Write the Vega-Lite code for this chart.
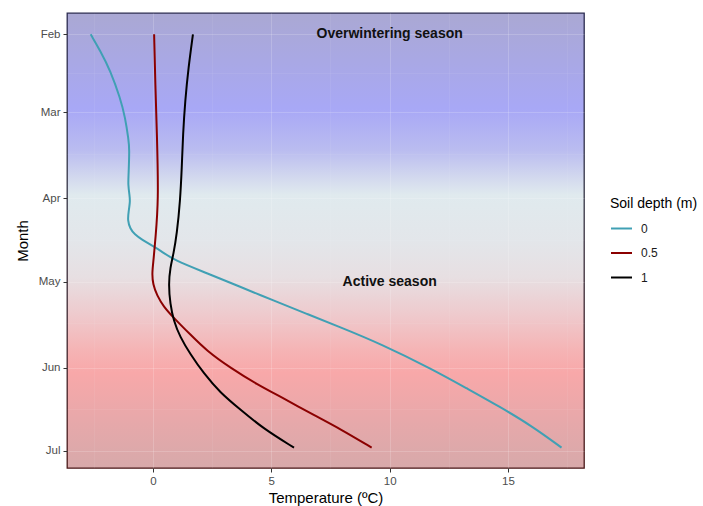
{
  "$schema": "https://vega.github.io/schema/vega-lite/v6.json",
  "width": 517,
  "height": 455,
  "autosize": {"type": "none"},
  "padding": {"left": 67, "top": 13, "right": 119, "bottom": 38},
  "background": "white",
  "config": {
    "font": "Liberation Sans",
    "view": {
      "fill": {"gradient": "linear", "x1": 0, "y1": 0, "x2": 0, "y2": 1, "stops": [
        {"offset": 0, "color": "#aaa8d3"},
        {"offset": 0.21, "color": "#a8a8f6"},
        {"offset": 0.30, "color": "#babcf0"},
        {"offset": 0.36, "color": "#d2d8ee"},
        {"offset": 0.40, "color": "#e0eaee"},
        {"offset": 0.50, "color": "#e3e6ea"},
        {"offset": 0.58, "color": "#e7dfe2"},
        {"offset": 0.67, "color": "#efc8cb"},
        {"offset": 0.74, "color": "#f5b4b5"},
        {"offset": 0.79, "color": "#f8a8a9"},
        {"offset": 0.89, "color": "#e8a8aa"},
        {"offset": 1, "color": "#d7a9aa"}
      ]},
      "stroke": {"gradient": "linear", "x1": 0, "y1": 0, "x2": 0, "y2": 1, "stops": [
        {"offset": 0, "color": "#2a2a50"},
        {"offset": 0.4, "color": "#333344"},
        {"offset": 1, "color": "#4a1818"}
      ]},
      "strokeWidth": 1.3
    },
    "axis": {
      "domain": false,
      "gridColor": "#ffffff",
      "tickColor": "#333333",
      "tickSize": 4,
      "labelColor": "#4d4d4d",
      "labelFontSize": 11.5,
      "labelPadding": 3,
      "titleFontSize": 15,
      "titleFontWeight": "normal",
      "titleColor": "#000000"
    }
  },
  "datasets": {
    "temps": [
      {"depth": "0", "date": "2021-02-01", "temp": -2.63},
      {"depth": "0", "date": "2021-02-07", "temp": -2.22},
      {"depth": "0", "date": "2021-02-14", "temp": -1.80},
      {"depth": "0", "date": "2021-02-24", "temp": -1.38},
      {"depth": "0", "date": "2021-03-03", "temp": -1.17},
      {"depth": "0", "date": "2021-03-11", "temp": -1.03},
      {"depth": "0", "date": "2021-03-14", "temp": -0.99},
      {"depth": "0", "date": "2021-03-24", "temp": -1.03},
      {"depth": "0", "date": "2021-03-27", "temp": -1.05},
      {"depth": "0", "date": "2021-03-31", "temp": -0.99},
      {"depth": "0", "date": "2021-04-02", "temp": -0.96},
      {"depth": "0", "date": "2021-04-06", "temp": -1.03},
      {"depth": "0", "date": "2021-04-09", "temp": -1.07},
      {"depth": "0", "date": "2021-04-12", "temp": -0.96},
      {"depth": "0", "date": "2021-04-14", "temp": -0.78},
      {"depth": "0", "date": "2021-04-16", "temp": -0.45},
      {"depth": "0", "date": "2021-04-18", "temp": -0.05},
      {"depth": "0", "date": "2021-04-20", "temp": 0.35},
      {"depth": "0", "date": "2021-04-23T06:00:00Z", "temp": 0.87},
      {"depth": "0", "date": "2021-04-28", "temp": 2.28},
      {"depth": "0", "date": "2021-05-02T21:00:00Z", "temp": 3.68},
      {"depth": "0", "date": "2021-05-07T20:00:00Z", "temp": 5.09},
      {"depth": "0", "date": "2021-05-12T15:00:00Z", "temp": 6.50},
      {"depth": "0", "date": "2021-05-17T09:00:00Z", "temp": 7.90},
      {"depth": "0", "date": "2021-05-23T07:00:00Z", "temp": 9.59},
      {"depth": "0", "date": "2021-06-01T16:00:00Z", "temp": 11.83},
      {"depth": "0", "date": "2021-06-08T10:00:00Z", "temp": 13.25},
      {"depth": "0", "date": "2021-06-15T01:00:00Z", "temp": 14.65},
      {"depth": "0", "date": "2021-06-22T06:00:00Z", "temp": 16.05},
      {"depth": "0", "date": "2021-06-29T19:00:00Z", "temp": 17.26},
      {"depth": "0.5", "date": "2021-02-01", "temp": 0.05},
      {"depth": "0.5", "date": "2021-02-19", "temp": 0.10},
      {"depth": "0.5", "date": "2021-03-09", "temp": 0.17},
      {"depth": "0.5", "date": "2021-04-02", "temp": 0.24},
      {"depth": "0.5", "date": "2021-04-16", "temp": 0.10},
      {"depth": "0.5", "date": "2021-04-23", "temp": 0.03},
      {"depth": "0.5", "date": "2021-04-28", "temp": -0.04},
      {"depth": "0.5", "date": "2021-05-02", "temp": 0.00},
      {"depth": "0.5", "date": "2021-05-06", "temp": 0.17},
      {"depth": "0.5", "date": "2021-05-10", "temp": 0.45},
      {"depth": "0.5", "date": "2021-05-14", "temp": 0.87},
      {"depth": "0.5", "date": "2021-05-20", "temp": 1.57},
      {"depth": "0.5", "date": "2021-05-26", "temp": 2.28},
      {"depth": "0.5", "date": "2021-06-01", "temp": 3.26},
      {"depth": "0.5", "date": "2021-06-07", "temp": 4.39},
      {"depth": "0.5", "date": "2021-06-12", "temp": 5.51},
      {"depth": "0.5", "date": "2021-06-18", "temp": 6.78},
      {"depth": "0.5", "date": "2021-06-23", "temp": 7.90},
      {"depth": "0.5", "date": "2021-06-29T19:00:00Z", "temp": 9.24},
      {"depth": "1", "date": "2021-02-01", "temp": 1.69},
      {"depth": "1", "date": "2021-02-13", "temp": 1.50},
      {"depth": "1", "date": "2021-02-25", "temp": 1.36},
      {"depth": "1", "date": "2021-03-09", "temp": 1.27},
      {"depth": "1", "date": "2021-03-21", "temp": 1.22},
      {"depth": "1", "date": "2021-04-02", "temp": 1.15},
      {"depth": "1", "date": "2021-04-14", "temp": 1.01},
      {"depth": "1", "date": "2021-04-21", "temp": 0.87},
      {"depth": "1", "date": "2021-04-26", "temp": 0.73},
      {"depth": "1", "date": "2021-05-02", "temp": 0.66},
      {"depth": "1", "date": "2021-05-09", "temp": 0.73},
      {"depth": "1", "date": "2021-05-15", "temp": 0.87},
      {"depth": "1", "date": "2021-05-21", "temp": 1.15},
      {"depth": "1", "date": "2021-05-27", "temp": 1.57},
      {"depth": "1", "date": "2021-06-03", "temp": 2.14},
      {"depth": "1", "date": "2021-06-10", "temp": 2.84},
      {"depth": "1", "date": "2021-06-16", "temp": 3.68},
      {"depth": "1", "date": "2021-06-23", "temp": 4.67},
      {"depth": "1", "date": "2021-06-29T19:00:00Z", "temp": 5.96}
    ],
    "notes": [
      {"label": "Overwintering season", "date": "2021-02-01", "temp": 10},
      {"label": "Active season", "date": "2021-05-01", "temp": 10}
    ]
  },
  "layer": [
    {
      "data": {"name": "temps"},
      "mark": {"type": "line", "strokeWidth": 2, "interpolate": "basis", "strokeJoin": "round", "strokeCap": "butt"},
      "encoding": {
        "x": {
          "field": "temp", "type": "quantitative",
          "scale": {"domain": [-3.63, 18.21], "nice": false, "zero": false},
          "axis": {
            "title": "Temperature (ºC)",
            "values": [-2.5, 0, 2.5, 5, 7.5, 10, 12.5, 15, 17.5],
            "labelExpr": "datum.value % 5 == 0 ? datum.label : ''",
            "labelOverlap": false,
            "grid": true,
            "gridOpacity": {"condition": {"test": "datum.value % 5 == 0", "value": 0.18}, "value": 0.1},
            "gridWidth": {"condition": {"test": "datum.value % 5 == 0", "value": 1}, "value": 0.6},
            "tickOpacity": {"condition": {"test": "datum.value % 5 == 0", "value": 1}, "value": 0},
            "titlePadding": 4
          }
        },
        "y": {
          "field": "date", "type": "temporal",
          "scale": {
            "type": "utc",
            "domain": [
              {"year": 2021, "month": 1, "date": 24, "hours": 8, "utc": true},
              {"year": 2021, "month": 7, "date": 7, "hours": 3, "utc": true}
            ],
            "reverse": true,
            "nice": false
          },
          "axis": {
            "title": "Month",
            "values": [
              {"year": 2021, "month": 2, "date": 1, "utc": true},
              {"year": 2021, "month": 2, "date": 15, "utc": true},
              {"year": 2021, "month": 3, "date": 1, "utc": true},
              {"year": 2021, "month": 3, "date": 16, "utc": true},
              {"year": 2021, "month": 4, "date": 1, "utc": true},
              {"year": 2021, "month": 4, "date": 16, "utc": true},
              {"year": 2021, "month": 5, "date": 1, "utc": true},
              {"year": 2021, "month": 5, "date": 16, "utc": true},
              {"year": 2021, "month": 6, "date": 1, "utc": true},
              {"year": 2021, "month": 6, "date": 16, "utc": true},
              {"year": 2021, "month": 7, "date": 1, "utc": true}
            ],
            "labelExpr": "utcdate(datum.value) == 1 ? utcFormat(datum.value, '%b') : ''",
            "labelOverlap": false,
            "grid": true,
            "gridOpacity": {"condition": {"test": "utcdate(datum.value) == 1", "value": 0.18}, "value": 0.1},
            "gridWidth": {"condition": {"test": "utcdate(datum.value) == 1", "value": 1}, "value": 0.6},
            "tickOpacity": {"condition": {"test": "utcdate(datum.value) == 1", "value": 1}, "value": 0},
            "titlePadding": 8
          }
        },
        "color": {
          "field": "depth", "type": "nominal",
          "scale": {"domain": ["0", "0.5", "1"], "range": ["#40a0b4", "#8b0000", "#000000"]},
          "legend": {
            "title": "Soil depth (m)",
            "orient": "none",
            "legendX": 543,
            "legendY": 184,
            "titleFontSize": 14,
            "titleFontWeight": "normal",
            "titleColor": "#000000",
            "titlePadding": 6,
            "labelFontSize": 12,
            "labelColor": "#1a1a1a",
            "symbolType": "stroke",
            "symbolStrokeWidth": 2,
            "symbolSize": 440,
            "rowPadding": 6.5,
            "labelOffset": 8
          }
        },
        "order": {"field": "date", "type": "temporal"}
      }
    },
    {
      "data": {"name": "notes"},
      "mark": {"type": "text", "fontWeight": "bold", "fontSize": 14, "color": "#111111", "align": "center", "baseline": "middle"},
      "encoding": {
        "x": {"field": "temp", "type": "quantitative"},
        "y": {"field": "date", "type": "temporal"},
        "text": {"field": "label"}
      }
    }
  ]
}
